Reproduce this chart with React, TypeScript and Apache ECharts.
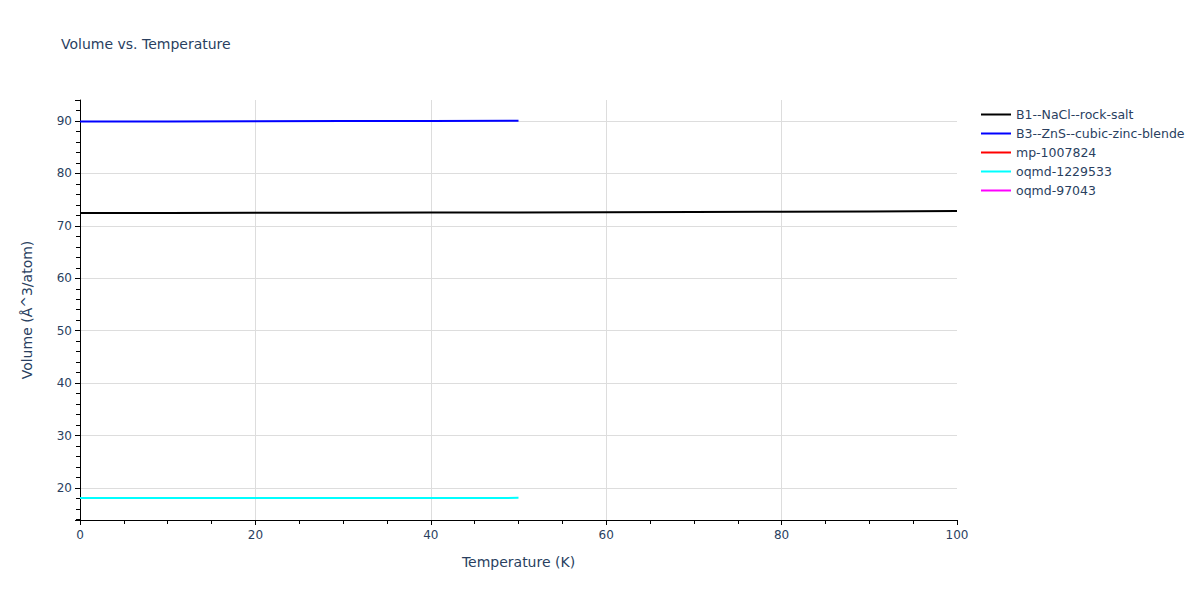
import React, { useEffect, useRef } from "react";
import * as echarts from "echarts";

const seriesNames = [
  "B1--NaCl--rock-salt",
  "B3--ZnS--cubic-zinc-blende",
  "mp-1007824",
  "oqmd-1229533",
  "oqmd-97043",
];
const seriesColors = ["#000000", "#0000ff", "#ff0000", "#00ffff", "#ff00ff"];

const b1Temps = [0, 10, 20, 30, 40, 50, 60, 70, 80, 90, 100];
const b1Volumes = [72.45, 72.46, 72.48, 72.5, 72.53, 72.56, 72.6, 72.64, 72.69, 72.75, 72.81];

const b3Temps = [0, 10, 20, 30, 40, 50];
const b3Volumes = [89.9, 89.92, 89.95, 89.98, 90.01, 90.05];

const mpTemps: number[] = [];
const mpVolumes: number[] = [];

const oqmd1Temps = [0, 10, 20, 30, 40, 50];
const oqmd1Volumes = [18.1, 18.1, 18.1, 18.11, 18.11, 18.12];

const oqmd2Temps: number[] = [];
const oqmd2Volumes: number[] = [];

const allTemps = [b1Temps, b3Temps, mpTemps, oqmd1Temps, oqmd2Temps];
const allVolumes = [b1Volumes, b3Volumes, mpVolumes, oqmd1Volumes, oqmd2Volumes];

const textColor = "#2a3f5f";
const font = "'DejaVu Sans', Verdana, sans-serif";

export default function App() {
  const ref = useRef<HTMLDivElement>(null);
  useEffect(() => {
    if (!ref.current) return;
    const chart = echarts.init(ref.current, null, { renderer: "svg" });
    chart.setOption({
      animation: false,
      backgroundColor: "#ffffff",
      textStyle: { fontFamily: font },
      title: {
        text: "Volume vs. Temperature",
        left: 56,
        top: 32,
        textStyle: { fontSize: 14, fontWeight: "normal", color: textColor, fontFamily: font },
      },
      legend: {
        orient: "vertical",
        left: 976,
        top: 103,
        itemWidth: 30,
        itemHeight: 2,
        itemGap: 6,
        icon: "rect",
        textStyle: { fontSize: 12.5, color: textColor, fontFamily: font },
        data: seriesNames,
      },
      grid: { left: 80, right: 243, top: 100, bottom: 80 },
      xAxis: {
        type: "value",
        min: 0,
        max: 100,
        interval: 20,
        name: "Temperature (K)",
        nameLocation: "middle",
        nameGap: 35,
        nameTextStyle: { fontSize: 14, color: textColor, fontFamily: font },
        axisLine: { show: true, lineStyle: { color: "#000000", width: 1 } },
        axisTick: { show: true, length: 5, lineStyle: { color: "#000000" } },
        minorTick: { show: true, splitNumber: 4, length: 4, lineStyle: { color: "#000000" } },
        axisLabel: { fontSize: 12, color: textColor, margin: 9, fontFamily: font },
        splitLine: {
          show: true,
          showMinLine: false,
          showMaxLine: false,
          lineStyle: { color: "#dddddd", width: 1 },
        },
      },
      yAxis: {
        type: "value",
        min: 13.9,
        max: 94,
        splitNumber: 8,
        name: "Volume (Å^3/atom)",
        nameLocation: "middle",
        nameRotate: 90,
        nameGap: 46,
        nameTextStyle: { fontSize: 14, color: textColor, fontFamily: font },
        axisLine: { show: true, lineStyle: { color: "#000000", width: 1 } },
        axisTick: { show: true, length: 5, lineStyle: { color: "#000000" } },
        minorTick: { show: true, splitNumber: 5, length: 4, lineStyle: { color: "#000000" } },
        axisLabel: {
          fontSize: 12,
          color: textColor,
          margin: 8,
          fontFamily: font,
          showMinLabel: false,
          showMaxLabel: false,
        },
        splitLine: {
          show: true,
          showMinLine: false,
          showMaxLine: false,
          lineStyle: { color: "#dddddd", width: 1 },
        },
      },
      series: seriesNames.map((name, i) => ({
        name,
        type: "line",
        showSymbol: false,
        symbol: "none",
        color: seriesColors[i],
        lineStyle: { width: 2, color: seriesColors[i] },
        data: allTemps[i].map((t, j) => [t, allVolumes[i][j]]),
      })),
    });
    return () => chart.dispose();
  }, []);
  return (
    <div
      ref={ref}
      style={{ position: "absolute", left: 0, top: 0, width: 1200, height: 600 }}
    />
  );
}
